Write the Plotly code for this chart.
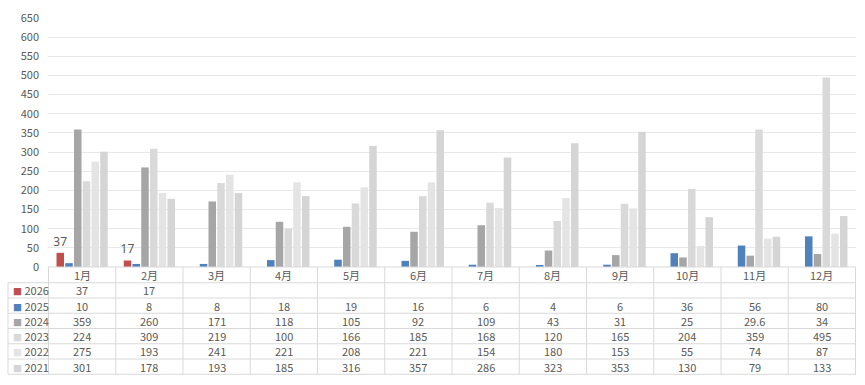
import plotly.graph_objects as go

months = ["1月", "2月", "3月", "4月", "5月", "6月", "7月", "8月", "9月", "10月", "11月", "12月"]
years = ["2026", "2025", "2024", "2023", "2022", "2021"]
v2026 = [37, 17, None, None, None, None, None, None, None, None, None, None]
v2025 = [10, 8, 8, 18, 19, 16, 6, 4, 6, 36, 56, 80]
v2024 = [359, 260, 171, 118, 105, 92, 109, 43, 31, 25, 29.6, 34]
v2023 = [224, 309, 219, 100, 166, 185, 168, 120, 165, 204, 359, 495]
v2022 = [275, 193, 241, 221, 208, 221, 154, 180, 153, 55, 74, 87]
v2021 = [301, 178, 193, 185, 316, 357, 286, 323, 353, 130, 79, 133]
series = [v2026, v2025, v2024, v2023, v2022, v2021]
colors = ["#C0504D", "#4F81BD", "#A6A6A6", "#D9D9D9", "#E4E4E4", "#D5D5D5"]

W, H = 865, 385
L, R, T, B = 48, 9, 14, 118
ph = H - T - B
pw = W - L - R

def py(pix):
    return (H - B - pix) / ph

def px(pix):
    return (pix - L) / pw

font_txt = "Noto Sans CJK SC, Noto Sans, sans-serif"
txt_color = "#595959"
line_color = "#D9D9D9"

fig = go.Figure()
for name, vals, c in zip(years, series, colors):
    kw = {}
    if name == "2026":
        kw = dict(text=[str(v) if v else "" for v in vals], textposition="outside",
                  textfont=dict(size=12, color="#595959", family="Noto Sans"),
                  constraintext="none", cliponaxis=False)
    fig.add_trace(go.Bar(x=months, y=vals, name=name, marker=dict(color=c, line=dict(width=0)), **kw))

shapes = []
ann = []
top = H - B
header_bottom = top + 16
row_h = 15.5
row_lines = [header_bottom + i * row_h for i in range(7)]
left_pix = 8

shapes.append(dict(type="line", xref="paper", yref="paper", x0=0, x1=1, y0=py(top), y1=py(top),
                   line=dict(color=line_color, width=1)))
for yl in row_lines:
    shapes.append(dict(type="line", xref="paper", yref="paper", x0=px(left_pix), x1=1, y0=py(yl), y1=py(yl),
                       line=dict(color=line_color, width=1)))
shapes.append(dict(type="line", xref="paper", yref="paper", x0=px(left_pix), x1=px(left_pix),
                   y0=py(header_bottom), y1=py(row_lines[-1]), line=dict(color=line_color, width=1)))
for i in range(len(months) + 1):
    xb = i - 0.5
    shapes.append(dict(type="line", xref="x", yref="paper", x0=xb, x1=xb,
                       y0=py(top), y1=py(row_lines[-1]), line=dict(color=line_color, width=1)))

for i, m in enumerate(months):
    ann.append(dict(x=i, y=py((top + header_bottom) / 2), xref="x", yref="paper", text=m, showarrow=False,
                    font=dict(size=11, color=txt_color, family=font_txt), xanchor="center", yanchor="middle"))
for r, (name, vals, c) in enumerate(zip(years, series, colors)):
    yc = py(row_lines[r] + row_h / 2)
    ann.append(dict(x=px(11), y=yc, xref="paper", yref="paper",
                    text=f"<span style='color:{c};font-size:9px'>■</span> {name}", showarrow=False,
                    font=dict(size=11, color=txt_color, family=font_txt), xanchor="left", yanchor="middle"))
    for i, v in enumerate(vals):
        if v is None:
            continue
        ann.append(dict(x=i, y=yc, xref="x", yref="paper", text=f"{v:g}", showarrow=False,
                        font=dict(size=11, color=txt_color, family=font_txt), xanchor="center", yanchor="middle"))

fig.update_layout(
    width=W, height=H,
    margin=dict(l=L, r=R, t=T, b=B),
    paper_bgcolor="white", plot_bgcolor="white",
    barmode="group", bargap=0.22, bargroupgap=0.14,
    showlegend=False,
    xaxis=dict(showticklabels=False, showgrid=False, zeroline=False, showline=False, ticks=""),
    yaxis=dict(range=[0, 650], dtick=50, showgrid=True, gridcolor="#E8E8E8", gridwidth=1,
               zeroline=False, showline=False, ticks="", ticklabelstandoff=8,
               tickfont=dict(size=11, color=txt_color, family=font_txt)),
    shapes=shapes, annotations=ann,
)

fig.write_html("out.html")
